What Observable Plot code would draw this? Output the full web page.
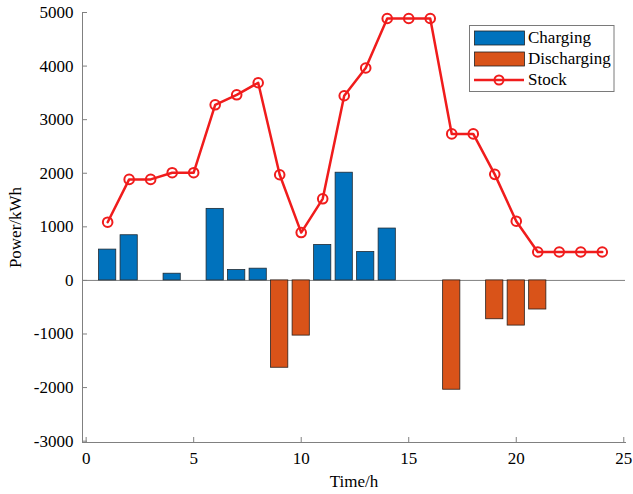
<!DOCTYPE html>
<html>
<head>
<meta charset="utf-8">
<script src="https://cdn.jsdelivr.net/npm/d3@7"></script>
<script src="https://cdn.jsdelivr.net/npm/@observablehq/plot@0.6"></script>
<style>
  html, body { margin: 0; padding: 0; background: #fff; }
  #wrap { position: relative; width: 633px; height: 494px; }
  #wrap svg { display: block; }
  #wrap svg text { font-family: 'Liberation Serif', 'Times New Roman', serif; font-variant-numeric: normal; }
  #legend { position: absolute; left: 0; top: 0; }
</style>
</head>
<body>
<div id="wrap"></div>
<script>
const hours = [1,2,3,4,5,6,7,8,9,10,11,12,13,14,15,16,17,18,19,20,21,22,23,24];
const charging = [575,843,0,125,0,1335,193,219,0,0,661,2010,530,968,0,0,0,0,0,0,0,0,0,0];
const discharging = [0,0,0,0,0,0,0,0,-1630,-1030,0,0,0,0,0,0,-2040,0,-725,-843,-543,0,0,0];
const stock = [1086,1885,1885,2010,2010,3277,3464,3689,1972,893,1523,3446,3964,4888,4888,4888,2734,2734,1979,1105,530,530,530,530];
const xTicks = [0,5,10,15,20,25];
const yTicks = [-3000,-2000,-1000,0,1000,2000,3000,4000,5000];
const seriesNames = ["Charging","Discharging","Stock"];

const colors = {Charging: "#0072BD", Discharging: "#D95319", Stock: "#f01c1c"};
const font = "'Liberation Serif', 'Times New Roman', serif";
const axisColor = "#808080";

const chargeRows = hours.map((t,i) => ({t, v: charging[i]})).filter(d => d.v !== 0);
const dischargeRows = hours.map((t,i) => ({t, v: discharging[i]})).filter(d => d.v !== 0);
const stockRows = hours.map((t,i) => ({t, v: stock[i]}));

const W = 633, H = 494, mL = 82, mR = 8, mT = 12, mB = 52;
const plotW = W - mL - mR, plotH = H - mT - mB;

const chart = Plot.plot({
  width: W, height: H,
  marginLeft: mL, marginRight: mR, marginTop: mT, marginBottom: mB,
  style: {fontFamily: font, fontSize: "17px", color: "#000", background: "#fff"},
  x: {domain: [-0.17, 25.08]},
  y: {domain: [-3025, 5000]},
  marks: [
    Plot.ruleY([0], {stroke: axisColor, strokeWidth: 1}),
    Plot.rectY(chargeRows, {x1: d => d.t - 0.4, x2: d => d.t + 0.4, y1: 0, y2: "v", fill: colors.Charging, stroke: "#1f2a33", strokeWidth: 0.8}),
    Plot.rectY(dischargeRows, {x1: d => d.t - 0.4, x2: d => d.t + 0.4, y1: 0, y2: "v", fill: colors.Discharging, stroke: "#2a1f1a", strokeWidth: 0.8}),
    Plot.line(stockRows, {x: "t", y: "v", stroke: colors.Stock, strokeWidth: 2.5}),
    Plot.dot(stockRows, {x: "t", y: "v", r: 4.8, stroke: colors.Stock, strokeWidth: 2, fill: "none"}),
    Plot.frame({anchor: "left", stroke: axisColor, strokeWidth: 1}),
    Plot.frame({anchor: "bottom", stroke: axisColor, strokeWidth: 1}),
    Plot.tickX(xTicks, {x: d => d, insetTop: plotH - 5, stroke: axisColor, strokeWidth: 1}),
    Plot.tickY(yTicks, {y: d => d, insetRight: plotW - 5, stroke: axisColor, strokeWidth: 1}),
    Plot.axisX(xTicks, {tickSize: 0, tickPadding: 9, fontSize: 17, fontFamily: font, tickFormat: d => String(d), label: "Time/h", labelAnchor: "center", labelArrow: "none", labelOffset: 44}),
    Plot.axisY(yTicks, {tickSize: 0, tickPadding: 9, fontSize: 17, fontFamily: font, tickFormat: d => String(d), label: "Power/kWh", labelAnchor: "center", labelArrow: "none", labelOffset: 74})
  ]
});
document.getElementById("wrap").appendChild(chart);

// Legend
const svg = d3.select("#wrap").append("svg")
  .attr("id", "legend").attr("width", W).attr("height", H)
  .style("font-family", font).style("font-size", "17px");
svg.append("rect").attr("x", 469.5).attr("y", 25.5).attr("width", 144.5).attr("height", 66)
  .attr("fill", "#fff").attr("stroke", "#7a7a7a").attr("stroke-width", 1);
const rows = [{name: seriesNames[0], y: 43}, {name: seriesNames[1], y: 64}, {name: seriesNames[2], y: 85}];
rows.forEach((r, i) => {
  if (i < 2) {
    svg.append("rect").attr("x", 474.5).attr("y", r.y - 12).attr("width", 50).attr("height", 14)
      .attr("fill", colors[r.name]).attr("stroke", "#222").attr("stroke-width", 0.8);
  } else {
    svg.append("line").attr("x1", 474).attr("x2", 524).attr("y1", r.y - 5).attr("y2", r.y - 5)
      .attr("stroke", colors.Stock).attr("stroke-width", 2.5);
    svg.append("circle").attr("cx", 499).attr("cy", r.y - 5).attr("r", 4.5)
      .attr("fill", "none").attr("stroke", colors.Stock).attr("stroke-width", 2);
  }
  svg.append("text").attr("x", 528).attr("y", r.y).attr("fill", "#000").text(r.name);
});
</script>
</body>
</html>
